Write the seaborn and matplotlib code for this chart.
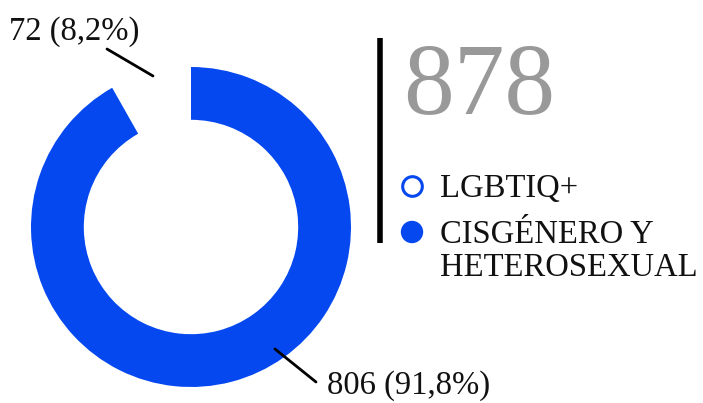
import matplotlib
matplotlib.use("Agg")
import matplotlib.pyplot as plt
import seaborn as sns

# data
labels = ["LGBTIQ+", "CISGÉNERO Y\nHETEROSEXUAL"]
values = [72, 806]
colors = ["white", "#0548F0"]
edge_colors = ["#0548F0", "#0548F0"]

total = sum(values)
pcts = [v / total * 100 for v in values]

sns.set_theme(style="white")
plt.rcParams["font.family"] = ["Liberation Serif", "DejaVu Serif"]

fig = plt.figure(figsize=(7.03, 4.03), dpi=100)

# donut axes: center (191, 227) px, radius 160 px
W, H = 703, 403
ax = fig.add_axes([31 / W, 16 / H, 320 / W, 320 / H])
ax.pie(values, colors=colors, startangle=90, counterclock=True,
       wedgeprops=dict(width=0.33, linewidth=0))
ax.set_xlim(-1, 1)
ax.set_ylim(-1, 1)
ax.set_aspect("equal")
ax.axis("off")

# overlay in pixel coords for texts and lines
ov = fig.add_axes([0, 0, 1, 1])
ov.set_xlim(0, W)
ov.set_ylim(H, 0)
ov.axis("off")

def fmt(v, p):
    return f"{v} ({p:.1f}%)".replace(".", ",")

# labels with leader lines
ov.plot([153, 107], [76, 49], color="black", lw=2)
ov.text(9, 40, fmt(values[0], pcts[0]), fontsize=23.5, ha="left",
        va="baseline", color="#111111")
ov.plot([275, 316], [349, 382], color="black", lw=2)
ov.text(327, 394, fmt(values[1], pcts[1]), fontsize=23.5, ha="left",
        va="baseline", color="#111111")

# total and vertical rule
ov.plot([380, 380], [38, 243], color="black", lw=4, solid_capstyle="butt")
ov.text(403, 113, str(total), fontsize=73, color="#999999", ha="left",
        va="baseline")

# legend
ov.scatter([412], [186], s=200, facecolor="white", edgecolor=edge_colors[0],
           linewidth=2.2, zorder=3)
ov.scatter([412], [232], s=260, facecolor=colors[1], edgecolor="none",
           zorder=3)
ov.text(440, 197, labels[0], fontsize=23.5, ha="left", va="baseline",
        color="#111111")
for i, line in enumerate(labels[1].split("\n")):
    ov.text(440, 243 + 33 * i, line, fontsize=23.5, ha="left",
            va="baseline", color="#111111")

fig.savefig("out.png", dpi=100)
